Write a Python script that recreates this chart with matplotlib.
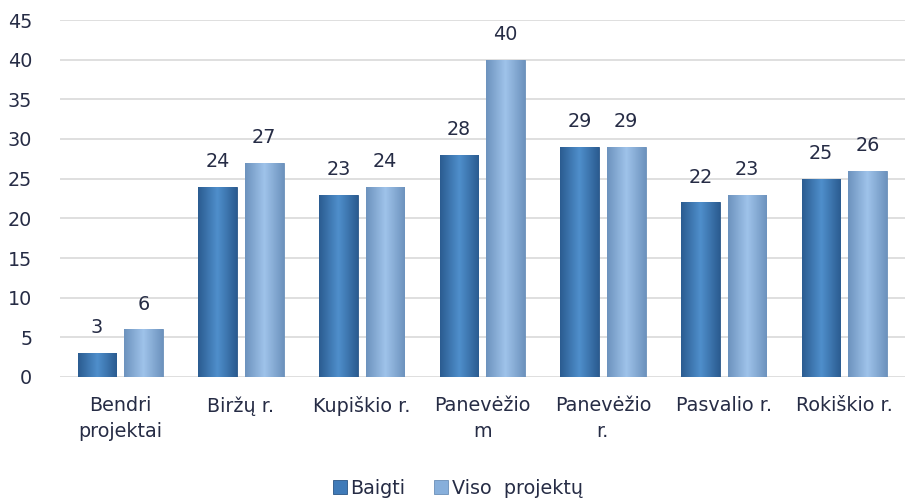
import numpy as np
import matplotlib
matplotlib.use("Agg")
import matplotlib.pyplot as plt
from matplotlib.colors import LinearSegmentedColormap

categories = ["Bendri\nprojektai", "Biržų r.", "Kupiškio r.", "Panevėžio\nm",
              "Panevėžio\nr.", "Pasvalio r.", "Rokiškio r."]
baigti = [3, 24, 23, 28, 29, 22, 25]
viso = [6, 27, 24, 40, 29, 23, 26]
series_names = ["Baigti", "Viso  projektų"]

plt.rcParams['font.family'] = ['DejaVu Sans']
text_color = "#262c45"
fs = 13.8

fig = plt.figure(figsize=(9.16, 5), dpi=100)
ax = fig.add_axes([0.0655, 0.246, 0.922, 0.714])

x = np.arange(len(categories))
w = 0.32
gap = 0.033

dark_cmap = LinearSegmentedColormap.from_list("d", ["#2b5c91", "#4f8fcc", "#2b5c91"])
light_cmap = LinearSegmentedColormap.from_list("l", ["#6d93be", "#9fc3ea", "#6d93be"])
grad = np.linspace(0, 1, 64).reshape(1, -1)

b1 = ax.bar(x - w / 2 - gap, baigti, w, color="#3f7ab8", edgecolor="#2a5585",
            linewidth=0.6, label=series_names[0], zorder=2)
b2 = ax.bar(x + w / 2 + gap, viso, w, color="#87afdb", edgecolor="#6a8fb8",
            linewidth=0.6, label=series_names[1], zorder=2)

for bars, cmap in ((b1, dark_cmap), (b2, light_cmap)):
    for r in bars:
        x0, y0 = r.get_x(), r.get_y()
        im = ax.imshow(grad, cmap=cmap, aspect="auto", zorder=2.5,
                       extent=(x0, x0 + r.get_width(), y0, y0 + r.get_height()))
        im.set_clip_path(r)

for bars, vals in ((b1, baigti), (b2, viso)):
    for r, v in zip(bars, vals):
        ax.text(r.get_x() + r.get_width() / 2, v + 2.0, str(v), ha="center",
                va="bottom", fontsize=fs, color=text_color)

ax.set_xlim(-0.5, len(categories) - 0.5)
ax.set_ylim(0, 45)
ax.set_yticks(range(0, 46, 5))
ax.set_xticks(x)
ax.set_xticklabels(categories, fontsize=fs, color=text_color, linespacing=1.45)
ax.tick_params(axis="y", labelsize=fs, labelcolor=text_color, length=0, pad=20)
ax.tick_params(axis="x", length=0, pad=14)
ax.yaxis.grid(True, color="#d9d9d9", linewidth=1.2, zorder=0)
ax.set_axisbelow(True)
for s in ax.spines.values():
    s.set_visible(False)

leg = fig.legend(handles=[b1, b2], labels=series_names, loc="lower center",
                 bbox_to_anchor=(0.5, -0.03), ncol=2, frameon=False,
                 fontsize=fs, handlelength=0.7, handleheight=0.7,
                 handletextpad=0.2, columnspacing=1.5)
for t in leg.get_texts():
    t.set_color(text_color)

fig.savefig("out.png", dpi=100)
